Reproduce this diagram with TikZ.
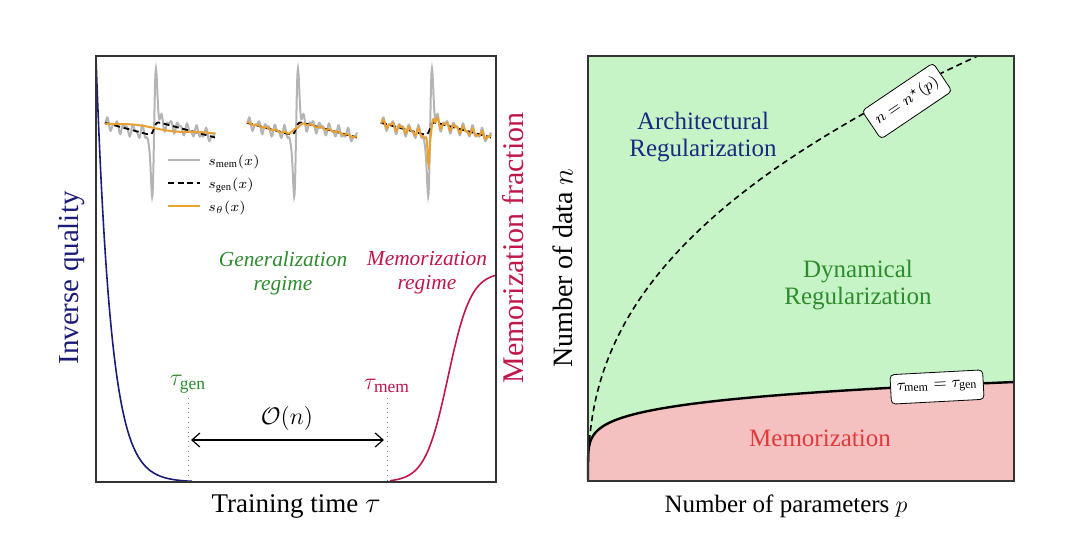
\documentclass[tikz,border=0pt]{standalone}
\usepackage{amsmath}
\usepackage{amssymb}
\usepackage{fontspec}
\setmainfont{Liberation Serif}
\usetikzlibrary{positioning,arrows.meta}

\definecolor{navyq}{HTML}{1C1C78}
\definecolor{crimsonm}{HTML}{C0174A}
\definecolor{greeng}{HTML}{2E8B2E}
\definecolor{archblue}{HTML}{1A2A80}
\definecolor{memred}{HTML}{E03A3A}
\definecolor{fillgreen}{HTML}{C6F4C6}
\definecolor{fillred}{HTML}{F4C0C0}
\definecolor{framegray}{HTML}{333333}
\definecolor{memgray}{HTML}{B4B4B4}
\definecolor{thetaorange}{HTML}{E8A030}

\tikzset{
	frame/.style={draw=framegray, line width=1pt},
	curvebox/.style={draw, fill=white, rounded corners=2pt, font=\fontsize{8.5}{10}\selectfont, inner xsep=3pt, inner ysep=4.5pt},
	legendtext/.style={font=\fontsize{7.5}{9}\selectfont, anchor=west, inner sep=0pt},
	regime/.style={font=\fontsize{10.7}{12}\selectfont\itshape, align=center},
	region/.style={font=\fontsize{12.5}{13.5}\selectfont, align=center},
	declare function={
		hs(\t)=1/(1+exp(min(9,max(-9,-(\t)))));
		sgen(\t)=136+0.27*(\t)-15*hs((\t)/1.2);
		rough(\t)=(4.5*sin(40*(\t))+2.5*sin(73*(\t)+50))*(1+1.2*exp(max(-9,-((\t)/8)*((\t)/8))));
		spike(\t)=-150*((\t)/2.5)*exp(max(-9,-((\t)/2.5)*((\t)/2.5)))+14*exp(max(-9,-((\t)+2)*((\t)+2)/3));
		smem(\t)=sgen(\t)+rough(\t)+spike(\t);
		oa(\t)=128+0.11*(\t)+1.2*sin(5*(\t));
		ob(\t)=136+0.27*(\t)-15*hs((\t)/3)+0.8*sin(40*(\t));
		oc(\t)=sgen(\t)+0.6*rough(\t)+40*exp(max(-9,-((\t)+1.5)*((\t)+1.5)/2.2))-5*exp(max(-9,-((\t)-3)*((\t)-3)/3));
	}
}

\begin{document}
\begin{tikzpicture}[x=0.5pt, y=-0.5pt, >={Straight Barb[length=4pt,width=7pt]}]
	\useasboundingbox (0,0) rectangle (1080,540);

	% left panel
	\foreach \c in {154,296,430}{
		\draw[memgray, line width=1pt] plot[domain=-49:61, samples=260] ({\c+(\x)}, {smem(\x)});
		\draw[black, line width=0.9pt, dash pattern=on 3pt off 1.8pt] plot[domain=-49:61, samples=120] ({\c+(\x)}, {sgen(\x)});
	}
	\draw[thetaorange, line width=1pt] plot[domain=-49:61, samples=80] ({154+(\x)}, {oa(\x)});
	\draw[thetaorange, line width=1pt] plot[domain=-49:61, samples=120] ({296+(\x)}, {ob(\x)});
	\draw[thetaorange, line width=1pt] plot[domain=-49:61, samples=260] ({430+(\x)}, {oc(\x)});

	\draw[memgray, line width=1pt] (168,160) -- (200,160);
	\draw[black, line width=0.9pt, dash pattern=on 3pt off 1.8pt] (168,183) -- (200,183);
	\draw[thetaorange, line width=1pt] (168,206) -- (200,206);
	\node[legendtext] (lmem) at (208,162){$s_{\mathrm{mem}}(x)$};
	\node[legendtext] (lgen) at (208,185){$s_{\mathrm{gen}}(x)$};
	\node[legendtext] (ltheta) at (208,208){$s_{\theta}(x)$};

	\draw[navyq, line width=0.8pt] plot[domain=96:192, samples=100] (\x, {482-424*exp(-(\x-96)/15)});
	\draw[crimsonm, line width=0.8pt] plot[domain=390:496, samples=100] (\x, {482-210/(1+exp(-(\x-448)/11.5))});

	\coordinate (gentop) at (188,398);
	\coordinate (genbot) at (188,482);
	\coordinate (memtop) at (387,398);
	\coordinate (membot) at (387,482);
	\draw[gray, dotted] (gentop) -- (genbot);
	\draw[gray, dotted] (memtop) -- (membot);
	\node[text=greeng, font=\fontsize{12.5}{14}\selectfont, above=-1pt of gentop] (taugen){$\tau_{\mathrm{gen}}$};
	\node[text=crimsonm, font=\fontsize{12.5}{14}\selectfont, above=-1pt of memtop] (taumem){$\tau_{\mathrm{mem}}$};
	\coordinate (arrl) at (191,440);
	\coordinate (arrr) at (384,440);
	\draw[<->, line width=0.6pt] (arrl) -- (arrr);
	\node[font=\fontsize{13}{15}\selectfont] (orderl) at (287,418){$\mathcal{O}(n)$};

	\node[regime, text=greeng] (genregime) at (283,273){Generalization\\regime};
	\node[regime, text=crimsonm] (memregime) at (427,273){Memorization\\regime};

	\draw[frame] (96,56) rectangle (496,482);
	\node[rotate=90, text=navyq, font=\fontsize{14.5}{16}\selectfont] (invq) at (72,278){Inverse quality};
	\node[rotate=90, text=crimsonm, font=\fontsize{15}{17}\selectfont] (memfrac) at (513,248){Memorization fraction};
	\node[font=\fontsize{13.5}{16}\selectfont] (xleft) at (296,506){Training time $\tau$};

	% right panel
	\fill[fillgreen] (588,56) rectangle (1014,481);
	\fill[fillred] (588,481) -- plot[domain=0.01:4.543, samples=160] ({588+\x^4}, {481-33.9*\x^0.708}) -- (1014,481) -- cycle;
	\draw[black, line width=0.8pt, dash pattern=on 3pt off 2pt] plot[domain=0.01:4.441, samples=160] ({588+\x^4}, {481-34.7*\x^1.68});
	\draw[black, line width=1.2pt] plot[domain=0.01:4.543, samples=160] ({588+\x^4}, {481-33.9*\x^0.708});
	\draw[frame] (588,56) rectangle (1014,481);

	\node[curvebox, rotate=34] (nstar) at (907,101){$n=n^{\star}(p)$};
	\node[curvebox, rotate=3] (taueq) at (937,387){$\tau_{\mathrm{mem}}=\tau_{\mathrm{gen}}$};
	\node[region, text=archblue] (arch) at (703,137){Architectural\\Regularization};
	\node[region, text=greeng] (dyn) at (858,285){Dynamical\\Regularization};
	\node[region, text=memred] (memo) at (820,438){Memorization};

	\node[rotate=90, font=\fontsize{14}{16}\selectfont] (yright) at (563,268){Number of data $n$};
	\node[font=\fontsize{12.5}{15}\selectfont] (xright) at (786,506){Number of parameters $p$};
\end{tikzpicture}
\end{document}
